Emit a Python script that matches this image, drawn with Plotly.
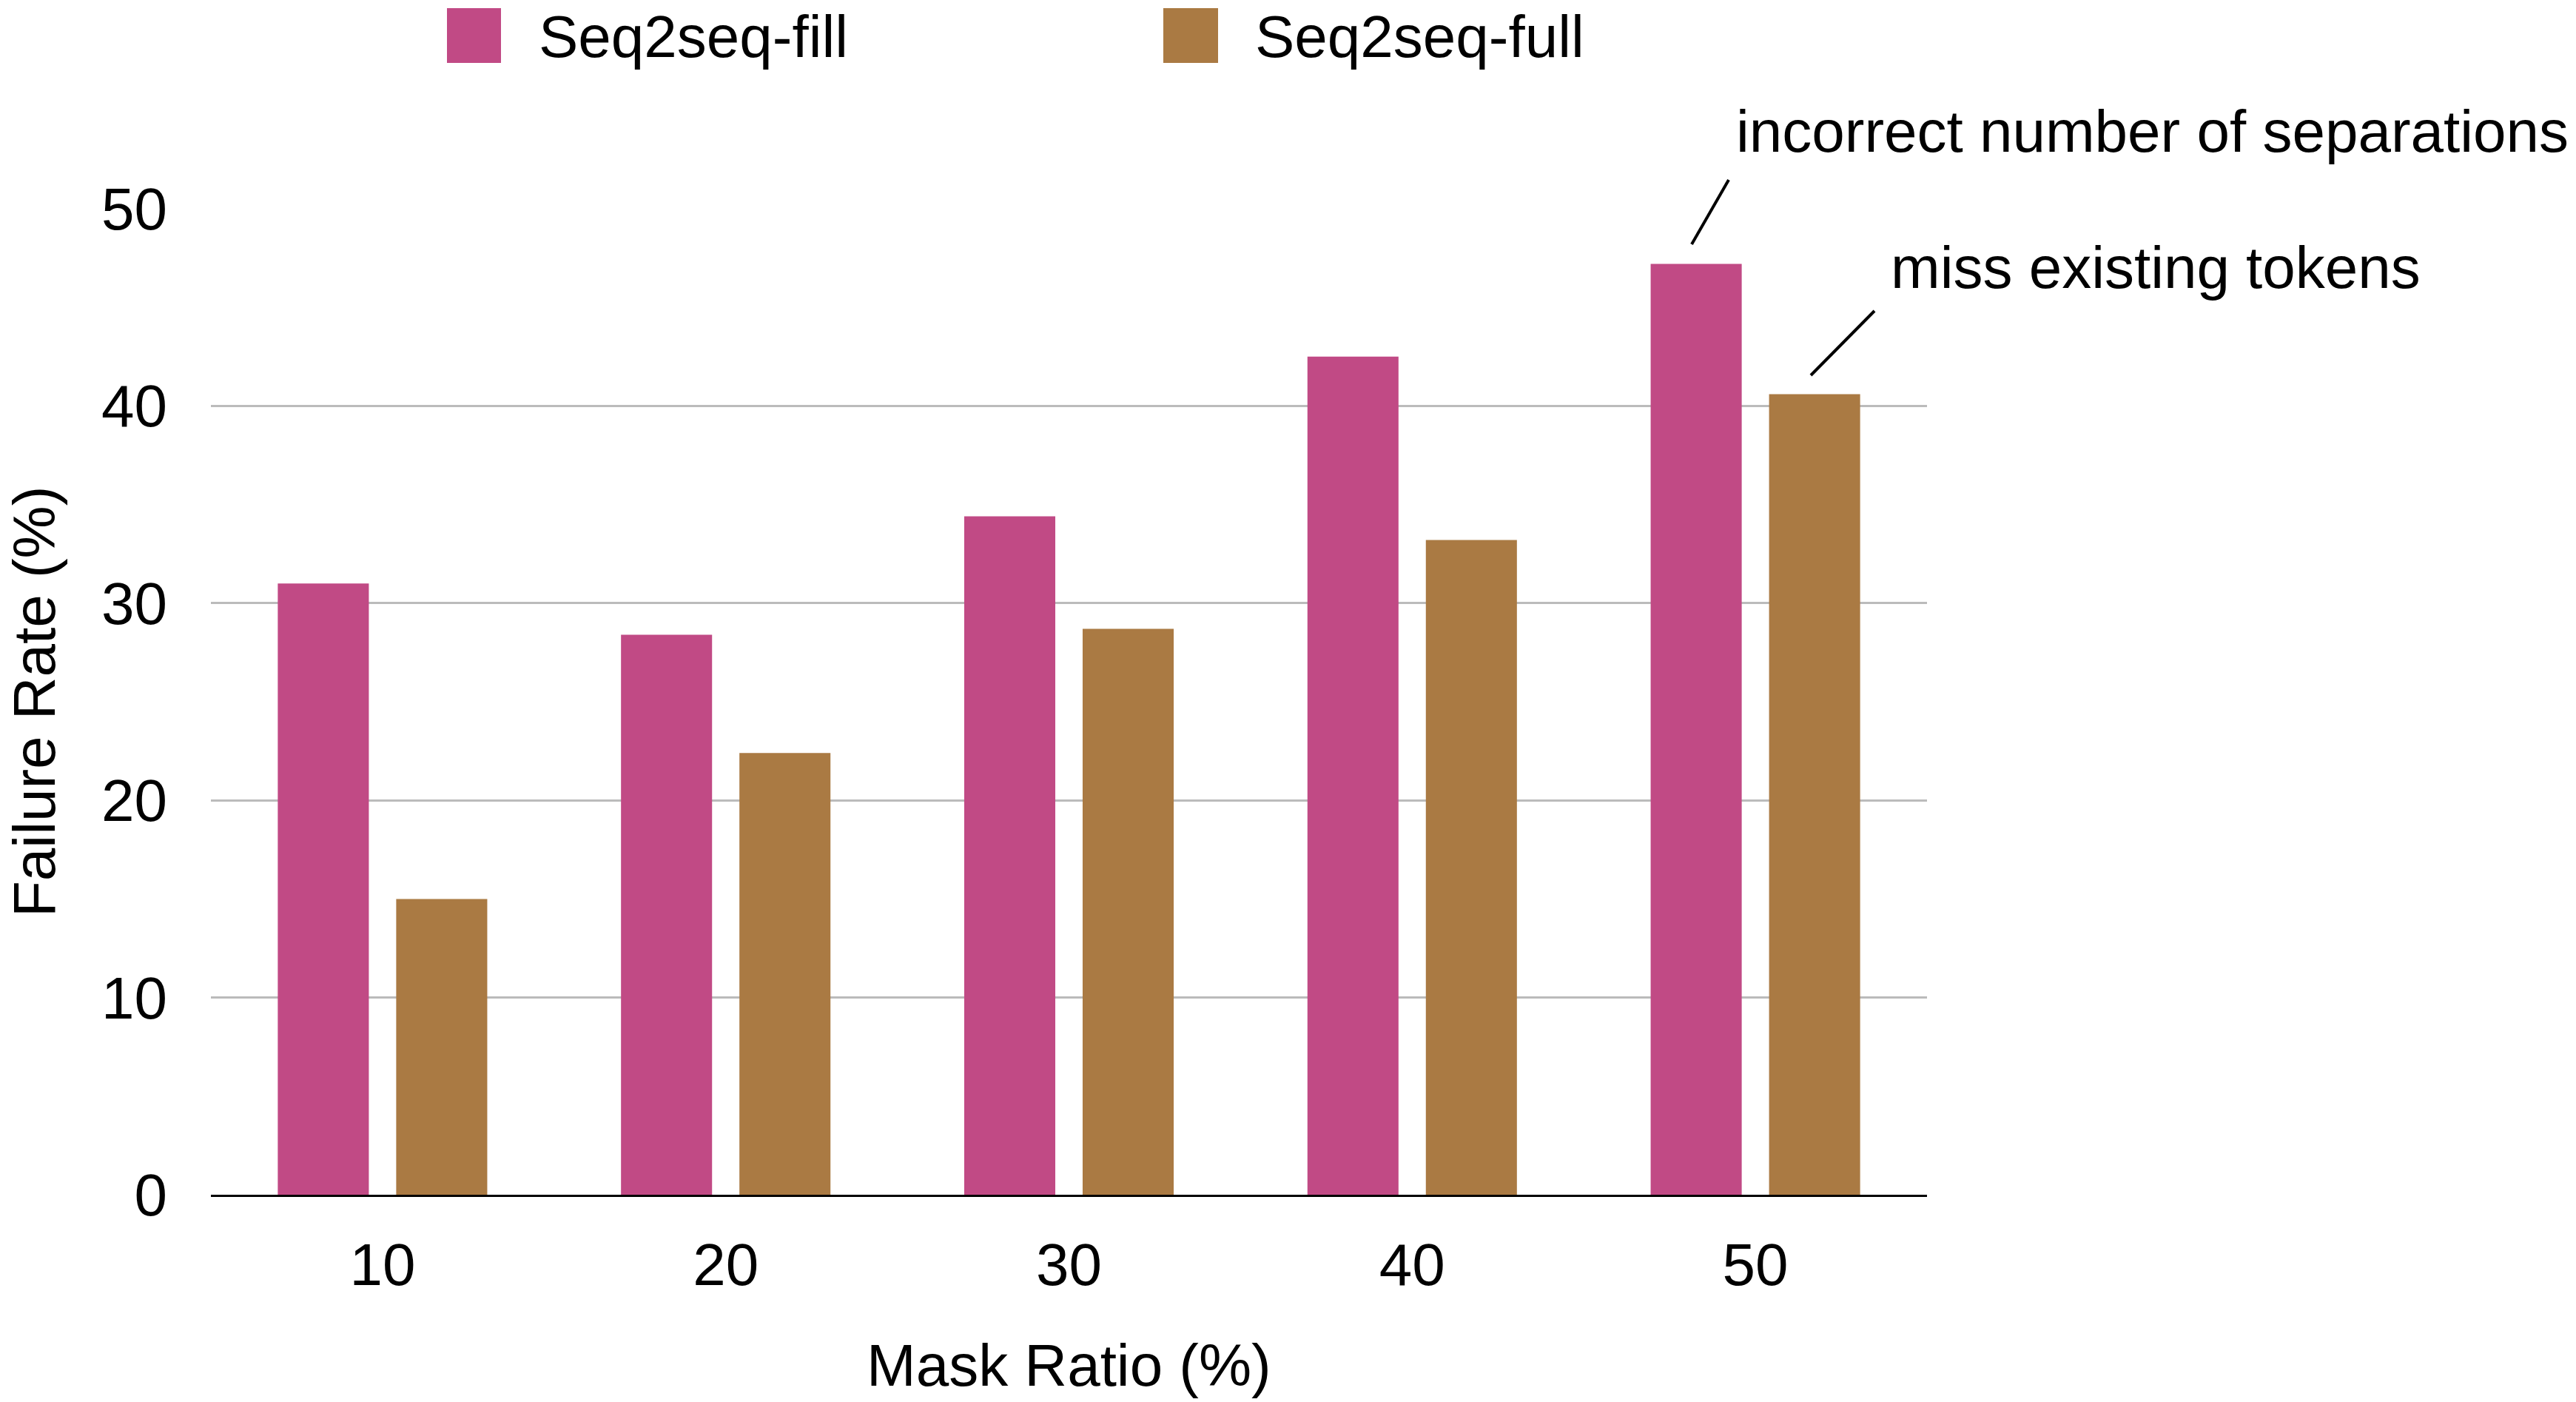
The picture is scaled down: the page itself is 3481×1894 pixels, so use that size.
import plotly.graph_objects as go

# Failure rate by mask ratio for the two seq2seq variants
mask_ratios = ["10", "20", "30", "40", "50"]
seq2seq_fill = [31.0, 28.4, 34.4, 42.5, 47.2]
seq2seq_full = [15.0, 22.4, 28.7, 33.2, 40.6]
series_names = ["Seq2seq-fill", "Seq2seq-full"]
y_ticks = [0, 10, 20, 30, 40, 50]

note_separations = "incorrect number of separations"
note_missing = "miss existing tokens"

PINK = "#C14A85"
BROWN = "#AA7A43"
FONT = "Helvetica, Liberation Sans, Arial, sans-serif"
FS = 80

W, H = 3481, 1894
PL, PR, PT, PB = 285, 2604, 282, 1614


def px(X):
    return (X - PL) / (PR - PL)


def py(Y):
    return (PB - Y) / (PB - PT)


fig = go.Figure()
fig.add_trace(go.Bar(x=mask_ratios, y=seq2seq_fill, name=series_names[0],
                     marker=dict(color=PINK, line=dict(width=0))))
fig.add_trace(go.Bar(x=mask_ratios, y=seq2seq_full, name=series_names[1],
                     marker=dict(color=BROWN, line=dict(width=0))))

shapes = []
annotations = []

# Legend drawn as large swatches with labels across the top
legend_items = [(604, 677, 726, PINK, series_names[0]),
                (1572, 1646, 1694, BROWN, series_names[1])]
for x0, x1, tx, col, label in legend_items:
    shapes.append(dict(type="rect", xref="paper", yref="paper",
                       x0=px(x0), x1=px(x1), y0=py(85), y1=py(11),
                       fillcolor=col, line=dict(width=0)))
    annotations.append(dict(text=label, xref="paper", yref="paper",
                            x=px(tx), y=py(50), xanchor="left", yanchor="middle",
                            showarrow=False, font=dict(size=FS, color="black", family=FONT)))

# Callout notes with leader lines
shapes.append(dict(type="line", xref="paper", yref="paper",
                   x0=px(2286), y0=py(330), x1=px(2336), y1=py(243),
                   line=dict(color="black", width=4)))
shapes.append(dict(type="line", xref="paper", yref="paper",
                   x0=px(2447), y0=py(507), x1=px(2533), y1=py(420),
                   line=dict(color="black", width=4)))
annotations.append(dict(text=note_separations, xref="paper", yref="paper",
                        x=px(2344), y=py(177), xanchor="left", yanchor="middle",
                        showarrow=False, font=dict(size=FS, color="black", family=FONT)))
annotations.append(dict(text=note_missing, xref="paper", yref="paper",
                        x=px(2553), y=py(361), xanchor="left", yanchor="middle",
                        showarrow=False, font=dict(size=FS, color="black", family=FONT)))

# Axis titles
annotations.append(dict(text="Mask Ratio (%)", xref="paper", yref="paper",
                        x=0.5, y=py(1844), xanchor="center", yanchor="middle",
                        showarrow=False, font=dict(size=FS, color="black", family=FONT)))
annotations.append(dict(text="Failure Rate (%)", xref="paper", yref="paper",
                        x=px(46), y=py(948), xanchor="center", yanchor="middle",
                        textangle=-90, showarrow=False,
                        font=dict(size=FS, color="black", family=FONT)))

fig.update_layout(
    width=W, height=H,
    margin=dict(l=PL, r=W - PR, t=PT, b=H - PB, pad=0),
    paper_bgcolor="white", plot_bgcolor="white",
    barmode="group", bargap=0.31, bargroupgap=0.231,
    showlegend=False,
    font=dict(family=FONT, size=FS, color="black"),
    shapes=shapes, annotations=annotations,
)
fig.update_xaxes(
    type="category", showgrid=False, showline=True, linecolor="black", linewidth=3,
    ticks="", ticklabelstandoff=23, tickfont=dict(size=FS, family=FONT, color="black"),
    zeroline=False,
)
fig.update_yaxes(
    range=[0, 50], tickvals=y_ticks, showgrid=True, gridcolor="#BBBBBB", gridwidth=2.5,
    zeroline=False, showline=False, ticks="", ticklabelstandoff=58,
    tickfont=dict(size=FS, family=FONT, color="black"),
)

fig.write_html("out.html")
